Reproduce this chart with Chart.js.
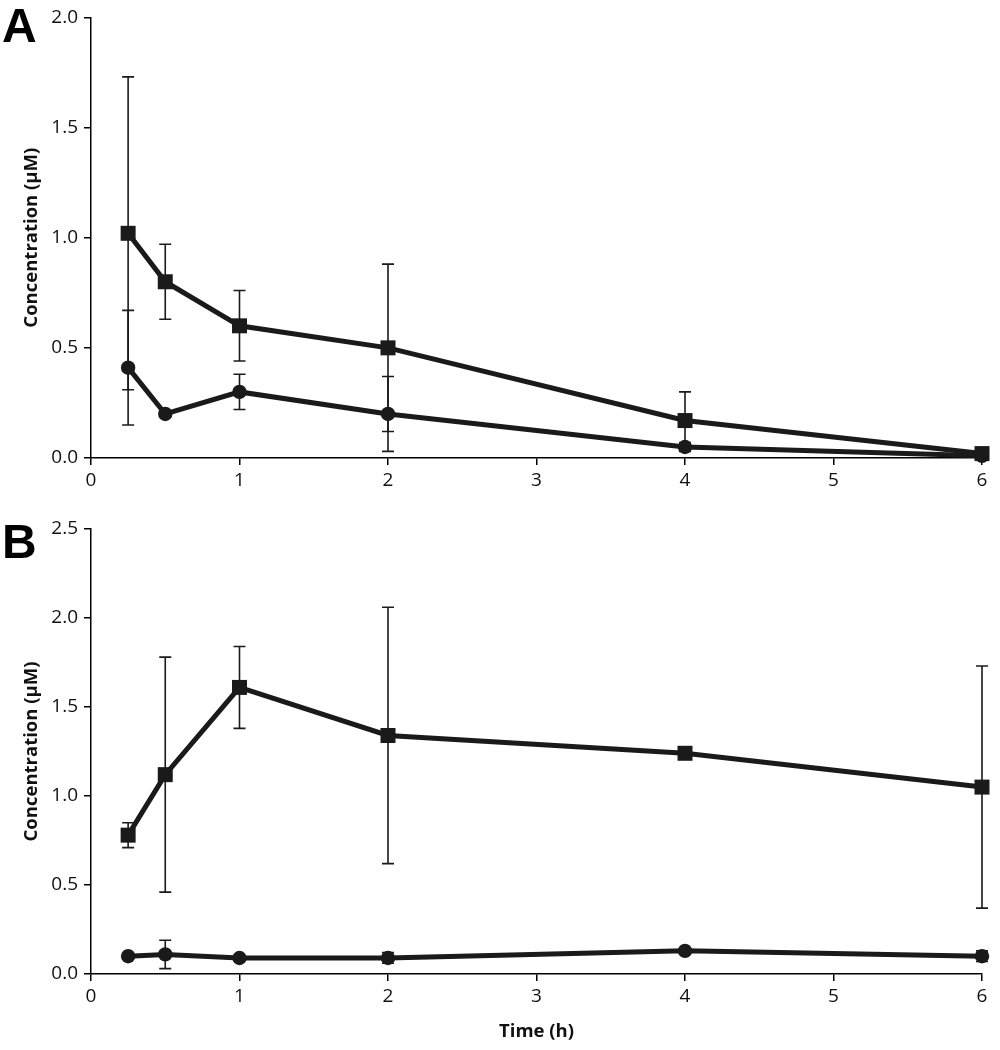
<!DOCTYPE html>
<html>
<head>
<meta charset="utf-8">
<script src="https://cdn.jsdelivr.net/npm/chart.js@4.4.1/dist/chart.umd.min.js"></script>
<style>
  body { margin: 0; background: #fff; }
  .panel { position: absolute; left: 0; width: 1000px; }
  .tag { position: absolute; left: 2px; font: bold 48px "Liberation Sans", Arial, sans-serif; color: #000; line-height: 1; }
</style>
</head>
<body>
<div class="panel" style="top:0;height:500px"><canvas id="chartA"></canvas></div>
<div class="panel" style="top:500px;height:550px"><canvas id="chartB"></canvas></div>
<div class="tag" style="top:2px">A</div>
<div class="tag" style="top:518px">B</div>
<script>
// sampling times (h)
const times = [0.25, 0.5, 1, 2, 4, 6];

// panel A
const aSquare    = [1.02, 0.80, 0.60, 0.50, 0.17, 0.02];
const aSquareErr = [0.71, 0.17, 0.16, 0.38, 0.13, 0.01];
const aCircle    = [0.41, 0.20, 0.30, 0.20, 0.05, 0.01];
const aCircleErr = [0.26, 0.01, 0.08, 0.17, 0.02, 0.01];

// panel B
const bSquare    = [0.78, 1.12, 1.61, 1.34, 1.24, 1.05];
const bSquareErr = [0.07, 0.66, 0.23, 0.72, 0.02, 0.68];
const bCircle    = [0.10, 0.11, 0.09, 0.09, 0.13, 0.10];
const bCircleErr = [0.01, 0.08, 0.01, 0.03, 0.01, 0.03];

const xTicks = [0, 1, 2, 3, 4, 5, 6];
const yMaxA = 2.0, yMaxB = 2.5;

const ink = "#1a1a1a";
const tickFont = { family: "'Open Sans', sans-serif", size: 19 };
const titleFont = { family: "'Open Sans', sans-serif", size: 18.5, weight: "bold" };

// vertical error bars with caps, drawn under the lines
const errorBars = {
  id: "errorBars",
  beforeDatasetsDraw(chart) {
    const ctx = chart.ctx;
    const xs = chart.scales.x, ys = chart.scales.y;
    ctx.save();
    ctx.strokeStyle = ink;
    ctx.lineWidth = 1.6;
    chart.data.datasets.forEach(ds => {
      ds.data.forEach((p, i) => {
        const e = ds.errors[i];
        const x = xs.getPixelForValue(p.x);
        const yTop = ys.getPixelForValue(p.y + e);
        const yBot = ys.getPixelForValue(p.y - e);
        ctx.beginPath();
        ctx.moveTo(x, yTop); ctx.lineTo(x, yBot);
        ctx.moveTo(x - 6, yTop); ctx.lineTo(x + 6, yTop);
        ctx.moveTo(x - 6, yBot); ctx.lineTo(x + 6, yBot);
        ctx.stroke();
      });
    });
    ctx.restore();
  }
};

function series(vals, errs, style, r) {
  return {
    data: vals.map((v, i) => ({ x: times[i], y: v })),
    errors: errs,
    borderColor: ink,
    backgroundColor: ink,
    borderWidth: 5,
    pointStyle: style,
    pointRadius: r,
    pointBorderWidth: 0,
    pointBackgroundColor: ink,
    tension: 0,
    clip: false
  };
}

function makeChart(id, sq, sqErr, ci, ciErr, yMax, padTop, xHeight, showTitle) {
  return new Chart(document.getElementById(id), {
    type: "line",
    data: {
      datasets: [
        series(sq, sqErr, "rect", 10.6),
        series(ci, ciErr, "circle", 7.2)
      ]
    },
    options: {
      responsive: true,
      maintainAspectRatio: false,
      animation: false,
      layout: { padding: { top: padTop, right: 18, left: 0, bottom: 0 } },
      plugins: { legend: { display: false }, tooltip: { enabled: false } },
      scales: {
        x: {
          type: "linear",
          min: 0, max: 6,
          afterBuildTicks: s => { s.ticks = xTicks.map(v => ({ value: v })); },
          afterFit: s => { s.height = xHeight; },
          grid: { drawOnChartArea: false, drawTicks: true, tickLength: 7, color: "#000", lineWidth: 1.5 },
          border: { display: true, color: "#000", width: 1.5 },
          ticks: { color: "#111", font: tickFont, padding: 4, maxRotation: 0 },
          title: { display: showTitle, text: "Time (h)", color: "#111", font: titleFont, padding: { top: 0, bottom: 7 } }
        },
        y: {
          min: 0, max: yMax,
          afterFit: s => { s.width = 91; },
          grid: { drawOnChartArea: false, drawTicks: true, tickLength: 7, color: "#000", lineWidth: 1.5 },
          border: { display: true, color: "#000", width: 1.5 },
          ticks: { stepSize: 0.5, color: "#111", font: tickFont, padding: 6, callback: v => v.toFixed(1) },
          title: { display: true, text: "Concentration (µM)", color: "#111", font: titleFont, padding: { top: 21, bottom: 0 } }
        }
      }
    },
    plugins: [errorBars]
  });
}

makeChart("chartA", aSquare, aSquareErr, aCircle, aCircleErr, yMaxA, 14, 42, false);
makeChart("chartB", bSquare, bSquareErr, bCircle, bCircleErr, yMaxB, 29, 76, true);
</script>
</body>
</html>
